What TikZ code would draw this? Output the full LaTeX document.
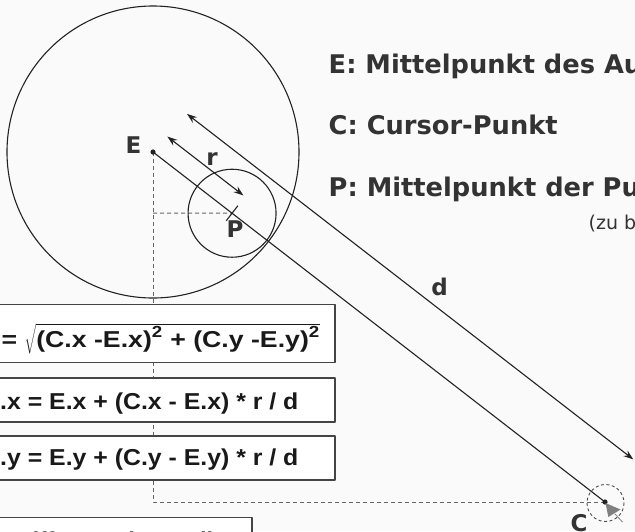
\documentclass[tikz,border=0pt]{standalone}
\usepackage{fontspec}
\usepackage{graphicx}
\setmainfont{Liberation Sans}
\newfontfamily\dv{DejaVu Sans}
\usetikzlibrary{arrows.meta,calc}
\definecolor{txt}{HTML}{333333}
\definecolor{ln}{HTML}{222222}
\definecolor{dsh}{HTML}{666666}
\definecolor{bgc}{HTML}{FAFAFA}
\definecolor{cur}{HTML}{808080}
\definecolor{boxln}{HTML}{444444}
\begin{document}
\begin{tikzpicture}[x=1pt,y=-1pt, line join=round,
  conn/.style={draw=ln, line width=1.1pt},
  dim/.style={conn, {Stealth[length=10pt,width=7pt,inset=3.5pt]}-{Stealth[length=10pt,width=7pt,inset=3.5pt]}},
  guide/.style={draw=dsh, line width=1pt, dash pattern=on 4pt off 3pt},
  lbl/.style={text=txt, font=\dv\bfseries\fontsize{23}{27}\selectfont, inner sep=0pt},
  leg/.style={text=txt, font=\dv\bfseries\fontsize{25.7}{30}\selectfont, inner sep=0pt, anchor=base west},
  fbox/.style={draw=boxln, line width=1.2pt, fill=white},
  ftxt/.style={font=\bfseries\fontsize{23}{27}\selectfont, inner sep=0pt, anchor=base west, text=black!90}
]
\fill[bgc] (0,0) rectangle (635,531);
\useasboundingbox (0,0) rectangle (635,531);

% key points
\coordinate (E) at (153,152);
\coordinate (C) at (605,502);
\coordinate (P) at ($(E)!100/571.67!(C)$);
\coordinate (Pv) at (153,213.2);
\coordinate (Cv) at (153,502);
% dimension arrow ends (offset perpendicular to E-C)
\coordinate (r1) at (167.4,136.6);
\coordinate (r2) at (243.4,195.4);
\coordinate (d1) at (187,113.9);
\coordinate (d2) at (633.3,459.4);
\coordinate (t1) at ($(P)+(-5.8,7.5)$);
\coordinate (t2) at ($(P)+(5.8,-7.5)$);

% guides
\draw[guide] (E) -- (Cv) -- (C);
\draw[guide] (Pv) -- (P);

% circles
\draw[conn] (E) circle[radius=146];
\draw[conn] (P) circle[radius=44];

% lines
\draw[conn] (E) -- (C);
\draw[conn] (t1) -- (t2);
\draw[dim] (r1) -- (r2);
\draw[dim] (d1) -- (d2);

% dots
\fill[ln] (E) circle[radius=2.6];
\fill[ln] (C) circle[radius=2.6];

% cursor
\draw[draw=black!70, line width=0.9pt, dash pattern=on 3pt off 2.5pt] (605.5,503) circle[radius=18.5];
\fill[cur] (605.5,503) -- (608.3,517) -- (620.5,509.5) -- cycle;
\draw[cur, line width=0.8pt] (615,514) -- (622.5,522);

% labels
\node[lbl, anchor=base] (lE) at (133.5,153) {E};
\node[lbl, anchor=base] (lr) at (212,165) {r};
\node[lbl, anchor=base] (lP) at (235,237) {P};
\node[lbl, anchor=base] (ld) at (439.7,295.7) {d};
\node[lbl, anchor=base] (lC) at (579,531.5) {C};

% legend
\node[leg] (g1) at (328.5,73.3) {E: Mittelpunkt des Au};
\node[leg] (g2) at (328.5,134) {C: Cursor-Punkt};
\node[leg] (g3) at (328.5,196.7) {P: Mittelpunkt der Pu};
\node[text=txt, font=\dv\fontsize{19}{22}\selectfont, inner sep=0pt, anchor=base west] (g4) at (588.5,229) {(zu b};

% formula boxes
\path[fbox] (-10,304.5) rectangle (335,362.5);
\path[fbox] (-10,378) rectangle (335,422);
\path[fbox] (-10,436) rectangle (335,480);
\path[fbox] (-10,517.3) rectangle (252,545);

\node[ftxt] (f1) at (1.5,347) {\scalebox{1.16}[1]{= $\sqrt{\hbox{(C.x -E.x)\textsuperscript{2} + (C.y -E.y)\textsuperscript{2}}}$}};
\node[ftxt] (f2) at (0,409) {\scalebox{1.08}[1]{.x = E.x + (C.x - E.x) * r / d}};
\node[ftxt] (f3) at (0,465) {\scalebox{1.08}[1]{.y = E.y + (C.y - E.y) * r / d}};
\node[ftxt] (f4) at (16,548) {Differenz der Radien};
\end{tikzpicture}
\end{document}
